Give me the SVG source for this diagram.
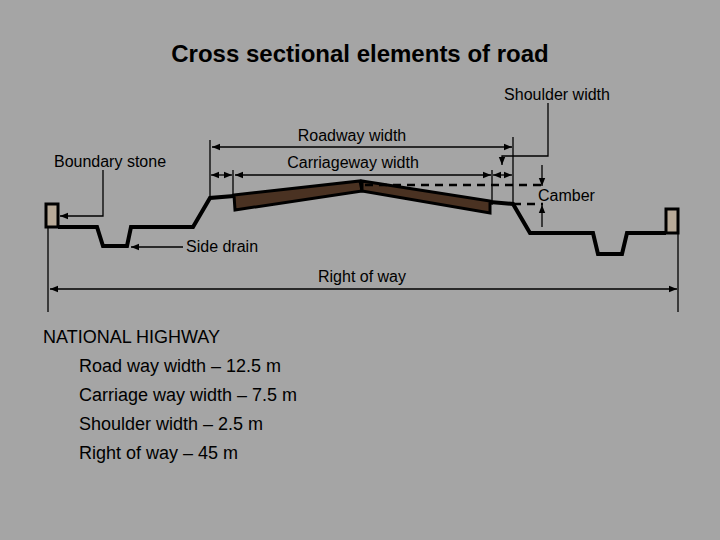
<svg xmlns="http://www.w3.org/2000/svg" width="720" height="540" viewBox="0 0 720 540">
<defs>
<style>
text{font-family:"Liberation Sans",Arial,sans-serif;fill:#000}
.lbl{font-size:16px}
.big{font-size:18px}
.thin{stroke:#000;stroke-width:1.3;fill:none}
.thick{stroke:#000;stroke-width:4;fill:none;stroke-linejoin:miter}
.dash{stroke:#000;stroke-width:2.5;fill:none;stroke-dasharray:8,6}
.slab{fill:#4a3222;stroke:#000;stroke-width:3}
.stone{fill:#b8aa98;stroke:#000;stroke-width:3}
</style>
<marker id="ah" viewBox="0 0 10 10" refX="10" refY="5" markerWidth="8" markerHeight="8" orient="auto-start-reverse" markerUnits="userSpaceOnUse"><path d="M0,1 L10,5 L0,9 z" fill="#000"/></marker>
</defs>
<rect width="720" height="540" fill="#a5a5a5"/>
<text x="360" y="62" text-anchor="middle" font-size="24" font-weight="bold">Cross sectional elements of road</text>
<g id="road">
<path class="thick" d="M58,227 L97,227 L103,246 L127,246 L131,227 L193,227 L210,198 L234,196"/>
<path class="thick" d="M490,202 L513,204 L530,233 L593,233 L598,254 L622,254 L627,233 L666,233"/>
<polygon class="slab" points="234,195 360,181 362,191 235,210"/>
<polygon class="slab" points="362,181 490,201 490,213 362,191"/>
<rect id="stoneL" class="stone" x="46" y="204" width="12" height="23"/>
<rect id="stoneR" class="stone" x="666" y="209" width="12" height="24"/>
</g>
<g id="connectors">
<line class="thin" x1="210" y1="140" x2="210" y2="198"/>
<line class="thin" x1="513" y1="137" x2="513" y2="204"/>
<line class="thin" x1="233" y1="170" x2="233" y2="195"/>
<line class="thin" x1="492" y1="170" x2="492" y2="205"/>
<line class="thin" x1="48" y1="228" x2="48" y2="312"/>
<line class="thin" x1="678" y1="234" x2="678" y2="312"/>
<line class="thin" stroke-width="2" x1="212" y1="147" x2="512" y2="147" marker-start="url(#ah)" marker-end="url(#ah)"/>
<line class="thin" stroke-width="2" x1="235" y1="175" x2="491" y2="175" marker-start="url(#ah)" marker-end="url(#ah)"/>
<line class="thin" stroke-width="2" x1="211" y1="175" x2="232" y2="175" marker-start="url(#ah)" marker-end="url(#ah)"/>
<line class="thin" stroke-width="2" x1="493" y1="175" x2="512" y2="175" marker-start="url(#ah)" marker-end="url(#ah)"/>
<line class="thin" stroke-width="2" x1="50" y1="289" x2="677" y2="289" marker-start="url(#ah)" marker-end="url(#ah)"/>
<path class="thin" stroke-width="2.5" d="M548,103 L548,156 L502,156 L502,165" marker-end="url(#ah)"/>
<path class="thin" stroke-width="2.5" d="M103,170 L103,216 L60,216" marker-end="url(#ah)"/>
<line class="thin" stroke-width="2.5" x1="183" y1="247" x2="131" y2="247" marker-end="url(#ah)"/>
<line class="dash" x1="365" y1="185" x2="543" y2="185"/>
<line class="dash" x1="513" y1="204" x2="543" y2="204"/>
<line class="thin" stroke-width="2" x1="542" y1="165" x2="542" y2="186" marker-end="url(#ah)"/>
<line class="thin" stroke-width="2" x1="542" y1="227" x2="542" y2="205" marker-end="url(#ah)"/>
</g>
<g id="labels" class="lbl">
<text x="352" y="141" text-anchor="middle">Roadway width</text>
<text x="353" y="168" text-anchor="middle">Carriageway width</text>
<text x="557" y="100" text-anchor="middle">Shoulder width</text>
<text x="110" y="167" text-anchor="middle">Boundary stone</text>
<text x="538" y="201">Camber</text>
<text x="186" y="252">Side drain</text>
<text x="362" y="282" text-anchor="middle">Right of way</text>
</g>
<g id="notes" class="big">
<text x="43" y="343">NATIONAL HIGHWAY</text>
<text x="79" y="372">Road way width – 12.5 m</text>
<text x="79" y="401">Carriage way width – 7.5 m</text>
<text x="79" y="430">Shoulder width – 2.5 m</text>
<text x="79" y="459">Right of way – 45 m</text>
</g>
</svg>
